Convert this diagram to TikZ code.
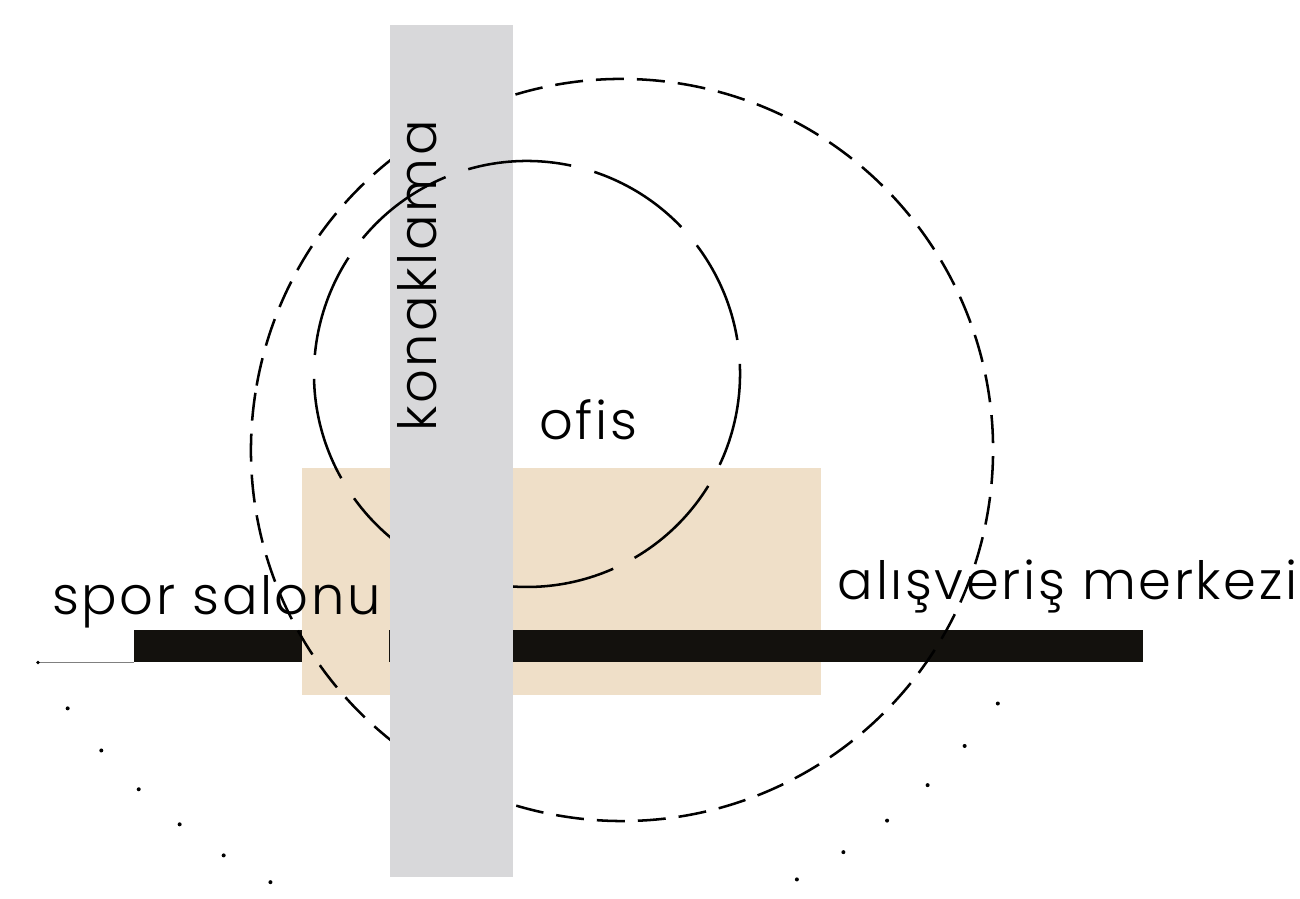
\documentclass[tikz,border=0pt]{standalone}
\usepackage{fontspec}
\setmainfont{Poppins}[UprightFont={* Light}]
\definecolor{beige}{RGB}{239,223,200}
\definecolor{barblack}{RGB}{19,17,13}
\definecolor{bargray}{RGB}{216,216,218}
\tikzset{
  lbl/.style={inner sep=0pt, anchor=base, font=\fontsize{15}{18}\selectfont\addfontfeature{LetterSpace=5}},
  bigdash/.style={line width=0.72pt, dash pattern=on 0.28cm off 0.13cm},
  smalldash/.style={line width=0.72pt, dash pattern=on 1.04cm off 0.24cm},
  thinline/.style={line width=0.72pt}
}
\begin{document}
\begin{tikzpicture}
\useasboundingbox (0,0) rectangle (13,8.99);
% beige block
\fill[beige] (3.02,2.04) rectangle (8.21,4.31);
% black bars
\fill[barblack] (1.34,2.37) rectangle (3.02,2.69);
\fill[barblack] (3.885,2.37) rectangle (11.43,2.69);
\draw[gray, line width=0.45pt] (0.38,2.365) -- (1.34,2.365);
\fill (0.38,2.365) circle (0.018);
% labels
\node[lbl] (spor) at (2.165,2.84) {spor salonu};
\node[lbl] (avm) at (10.675,2.99) {alışveriş merkezi};
\node[lbl] (ofis) at (5.88,4.59) {ofis};
% circles
\draw[bigdash] (6.22,4.49) ++(170:3.71) arc[start angle=170, end angle=-190, radius=3.71cm];
\draw[smalldash] (5.27,5.25) ++(209.3:2.13) arc[start angle=209.3, end angle=-128, radius=2.13cm];
\draw[thinline] (5.27,5.25) ++(-128:2.13) arc[start angle=-128, end angle=-144.3, radius=2.13cm];
% gray bar
\fill[bargray] (3.90,0.22) rectangle (5.13,8.74);
\node[lbl, rotate=90] (kon) at (4.36,6.23) {konaklama};
% small circle portion over the bar
\begin{scope}
\clip (3.90,5.6) rectangle (5.13,8.74);
\draw[smalldash] (5.27,5.25) ++(209.3:2.13) arc[start angle=209.3, end angle=-128, radius=2.13cm];
\end{scope}
% dots
\foreach \a in {35.3,40.7,46.1,51.5,56.9,62.3,67.7}{
  \fill (5.31,5.26) ++(-\a:5.72) circle (0.02);
}
\foreach \a in {117.1,122.5,127.9,133.3,138.7,144.1}{
  \fill (5.31,5.26) ++(-\a:5.72) circle (0.02);
}
\end{tikzpicture}
\end{document}
